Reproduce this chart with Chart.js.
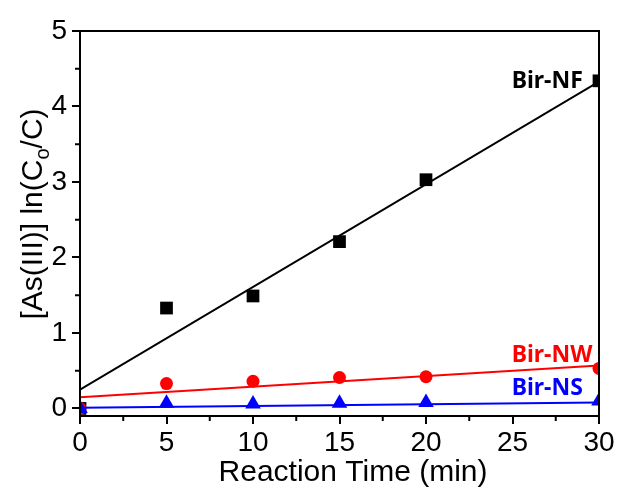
<!DOCTYPE html>
<html>
<head>
<meta charset="utf-8">
<script src="https://cdn.jsdelivr.net/npm/chart.js@4/dist/chart.umd.min.js"></script>
<style>
    body { margin: 0; background: #fff; }
    canvas { display: block; }
</style>
</head>
<body>
<canvas id="kineticsChart" width="618" height="487"></canvas>
<script>
// Reaction time (min) and measured values
const times = [0, 5, 10, 15, 20, 30];
const nfValues = [0, 1.33, 1.49, 2.21, 3.03, 4.34];
const nwValues = [0, 0.33, 0.36, 0.41, 0.42, 0.53];
const nsValues = [0, 0.07, 0.06, 0.07, 0.08, 0.10];

// Linear fit lines (end points)
const fitTimes = [0, 30];
const nfFit = [0.25, 4.33];
const nwFit = [0.15, 0.57];
const nsFit = [0.01, 0.08];

// Axis ticks
const xTicks = [0, 5, 10, 15, 20, 25, 30];
const xMinorTicks = [2.5, 7.5, 12.5, 17.5, 22.5, 27.5];
const yTicks = [0, 1, 2, 3, 4, 5];
const yMinorTicks = [0.5, 1.5, 2.5, 3.5, 4.5];

// Series labels (anchored in data units)
const seriesLabels = ['Bir-NF', 'Bir-NW', 'Bir-NS'];
const labelColors = ['#000000', '#ff0000', '#0000ff'];
const labelX = [24.95, 24.95, 24.95];
const labelY = [4.25, 0.61, 0.175];

const toPoints = (xs, ys) => xs.map((x, i) => ({ x: x, y: ys[i] }));

const axisFont = "'Liberation Sans', Arial, sans-serif";

// Frame, minor ticks, titles and labels
const decorations = {
    id: 'decorations',
    afterDraw(chart) {
        const ctx = chart.ctx;
        const area = chart.chartArea;
        const xScale = chart.scales.x;
        const yScale = chart.scales.y;

        ctx.save();
        ctx.strokeStyle = '#000';
        ctx.lineWidth = 2;
        ctx.strokeRect(area.left, area.top, area.right - area.left, area.bottom - area.top);

        // minor ticks
        ctx.beginPath();
        xMinorTicks.forEach(v => {
            const px = xScale.getPixelForValue(v);
            ctx.moveTo(px, area.bottom);
            ctx.lineTo(px, area.bottom + 5);
        });
        yMinorTicks.forEach(v => {
            const py = yScale.getPixelForValue(v);
            ctx.moveTo(area.left, py);
            ctx.lineTo(area.left - 5, py);
        });
        ctx.stroke();

        // x title
        ctx.fillStyle = '#000';
        ctx.font = '30px ' + axisFont;
        ctx.textAlign = 'center';
        ctx.textBaseline = 'alphabetic';
        ctx.fillText('Reaction Time (min)', 353, 481);

        // y title with subscript
        const main = '[As(III)] ln(C';
        const sub = 'o';
        const tail = '/C)';
        ctx.font = '30px ' + axisFont;
        const wMain = ctx.measureText(main).width;
        const wTail = ctx.measureText(tail).width;
        ctx.font = '20px ' + axisFont;
        const wSub = ctx.measureText(sub).width;
        const total = wMain + wSub + wTail;

        ctx.translate(42, 214);
        ctx.rotate(-Math.PI / 2);
        ctx.textAlign = 'left';
        let pos = -total / 2;
        ctx.font = '30px ' + axisFont;
        ctx.fillText(main, pos, 0);
        pos += wMain;
        ctx.font = '20px ' + axisFont;
        ctx.fillText(sub, pos, 7);
        pos += wSub;
        ctx.font = '30px ' + axisFont;
        ctx.fillText(tail, pos, 0);
        ctx.restore();

        // series labels
        ctx.save();
        ctx.font = "bold 23px 'Noto Sans', sans-serif";
        ctx.textAlign = 'left';
        ctx.textBaseline = 'alphabetic';
        seriesLabels.forEach((text, i) => {
            ctx.fillStyle = labelColors[i];
            ctx.fillText(text, xScale.getPixelForValue(labelX[i]), yScale.getPixelForValue(labelY[i]));
        });
        ctx.restore();
    }
};

const ctx = document.getElementById('kineticsChart').getContext('2d');
const kineticsChart = new Chart(ctx, {
    type: 'scatter',
    data: {
        datasets: [
            {
                label: 'Bir-NF fit',
                type: 'line',
                data: toPoints(fitTimes, nfFit),
                borderColor: '#000',
                borderWidth: 2,
                pointRadius: 0,
                clip: 0,
                order: 6
            },
            {
                label: 'Bir-NF',
                data: toPoints(times, nfValues),
                pointStyle: 'rect',
                pointRadius: 9,
                backgroundColor: '#000',
                borderColor: '#000',
                borderWidth: 0,
                clip: 0,
                order: 5
            },
            {
                label: 'Bir-NW fit',
                type: 'line',
                data: toPoints(fitTimes, nwFit),
                borderColor: '#ff0000',
                borderWidth: 2,
                pointRadius: 0,
                clip: 0,
                order: 4
            },
            {
                label: 'Bir-NW',
                data: toPoints(times, nwValues),
                pointStyle: 'circle',
                pointRadius: 6.5,
                backgroundColor: '#ff0000',
                borderColor: '#ff0000',
                borderWidth: 0,
                clip: 0,
                order: 3
            },
            {
                label: 'Bir-NS fit',
                type: 'line',
                data: toPoints(fitTimes, nsFit),
                borderColor: '#0000ff',
                borderWidth: 2,
                pointRadius: 0,
                clip: 0,
                order: 2
            },
            {
                label: 'Bir-NS',
                data: toPoints(times, nsValues),
                pointStyle: 'triangle',
                pointRadius: 9,
                backgroundColor: '#0000ff',
                borderColor: '#0000ff',
                borderWidth: 0,
                clip: 0,
                order: 1
            }
        ]
    },
    options: {
        responsive: false,
        animation: false,
        layout: {
            padding: { left: 0, top: 31, right: 19, bottom: 0 }
        },
        plugins: {
            legend: { display: false },
            tooltip: { enabled: false }
        },
        scales: {
            x: {
                type: 'linear',
                min: 0,
                max: 30,
                afterBuildTicks: scale => {
                    scale.ticks = xTicks.map(v => ({ value: v }));
                },
                afterFit: scale => {
                    scale.height = 71;
                },
                border: { color: '#000', width: 2 },
                grid: {
                    drawOnChartArea: false,
                    color: '#000',
                    lineWidth: 2,
                    tickLength: 8
                },
                ticks: {
                    color: '#000',
                    padding: 2,
                    maxRotation: 0,
                    font: { family: axisFont, size: 28 }
                }
            },
            y: {
                type: 'linear',
                min: -0.1,
                max: 5,
                afterBuildTicks: scale => {
                    scale.ticks = yTicks.map(v => ({ value: v }));
                },
                afterFit: scale => {
                    scale.width = 80;
                },
                border: { color: '#000', width: 2 },
                grid: {
                    drawOnChartArea: false,
                    color: '#000',
                    lineWidth: 2,
                    tickLength: 8
                },
                ticks: {
                    color: '#000',
                    padding: 5,
                    font: { family: axisFont, size: 28 }
                }
            }
        }
    },
    plugins: [decorations]
});
</script>
</body>
</html>
